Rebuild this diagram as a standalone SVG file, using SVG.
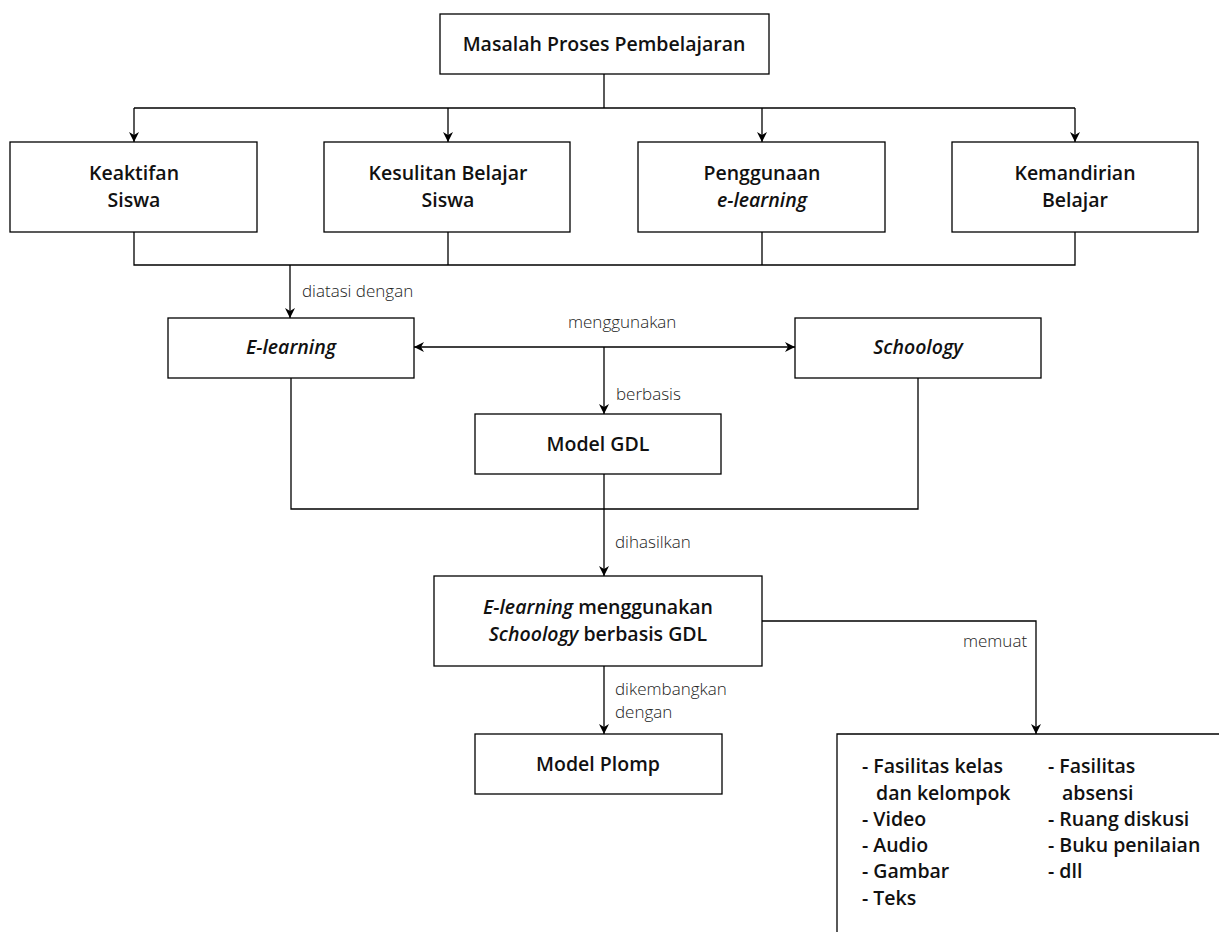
<svg xmlns="http://www.w3.org/2000/svg" width="1219" height="932" viewBox="0 0 1219 932">
<defs>
<marker id="arr" viewBox="0 0 10 10" refX="10" refY="5" markerWidth="10" markerHeight="10" markerUnits="userSpaceOnUse" orient="auto-start-reverse">
<path d="M0,0 L10,5 L0,10 L3,5 Z" fill="#000"/>
</marker>
<style>
rect.box{fill:#fff;stroke:#000;stroke-width:1.3}
.t{font-family:"Open Sans",Lato,sans-serif;font-size:19.5px;font-weight:600;fill:#111;text-anchor:middle}
.i{font-style:italic}
.lb{font-family:"Open Sans",Lato,sans-serif;font-size:17px;font-weight:300;fill:#222}
.ls{font-family:"Open Sans",Lato,sans-serif;font-size:19.5px;font-weight:600;fill:#111}
.c{fill:none;stroke:#000;stroke-width:1.3}
</style>
</defs>
<rect width="1219" height="932" fill="#fff"/>
<g id="connectors">
<path class="c" d="M604,74 V108"/>
<path class="c" d="M134,108 H1075"/>
<path class="c" d="M134,108 V142" marker-end="url(#arr)"/>
<path class="c" d="M448,108 V142" marker-end="url(#arr)"/>
<path class="c" d="M762,108 V142" marker-end="url(#arr)"/>
<path class="c" d="M1075,108 V142" marker-end="url(#arr)"/>
<path class="c" d="M134,232 V265 H1075 V232 M448,232 V265 M762,232 V265"/>
<path class="c" d="M290,265 V318" marker-end="url(#arr)"/>
<path class="c" d="M414,347 H795" marker-start="url(#arr)" marker-end="url(#arr)"/>
<path class="c" d="M604,347 V414" marker-end="url(#arr)"/>
<path class="c" d="M291,378 V509 H918 V378"/>
<path class="c" d="M604,474 V576" marker-end="url(#arr)"/>
<path class="c" d="M604,666 V734" marker-end="url(#arr)"/>
<path class="c" d="M762,621 H1036 V734" marker-end="url(#arr)"/>
<text class="lb" x="302" y="297">diatasi dengan</text>
<text class="lb" x="568" y="328">menggunakan</text>
<text class="lb" x="616" y="400">berbasis</text>
<text class="lb" x="615" y="548">dihasilkan</text>
<text class="lb" x="615" y="695">dikembangkan</text>
<text class="lb" x="615" y="718">dengan</text>
<text class="lb" x="963" y="647">memuat</text>
</g>
<g id="n-masalah">
<rect class="box" x="440" y="14" width="329" height="60"/>
<text class="t" x="604" y="51">Masalah Proses Pembelajaran</text>
</g>
<g id="n-keaktifan">
<rect class="box" x="10" y="142" width="247" height="90"/>
<text class="t" x="134" y="180">Keaktifan</text>
<text class="t" x="134" y="207">Siswa</text>
</g>
<g id="n-kesulitan">
<rect class="box" x="324" y="142" width="246" height="90"/>
<text class="t" x="448" y="180">Kesulitan Belajar</text>
<text class="t" x="448" y="207">Siswa</text>
</g>
<g id="n-penggunaan">
<rect class="box" x="638" y="142" width="247" height="90"/>
<text class="t" x="762" y="180">Penggunaan</text>
<text class="t i" x="762" y="207">e-learning</text>
</g>
<g id="n-kemandirian">
<rect class="box" x="952" y="142" width="246" height="90"/>
<text class="t" x="1075" y="180">Kemandirian</text>
<text class="t" x="1075" y="207">Belajar</text>
</g>
<g id="n-elearning">
<rect class="box" x="168" y="318" width="246" height="60"/>
<text class="t i" x="291" y="354">E-learning</text>
</g>
<g id="n-schoology">
<rect class="box" x="795" y="318" width="246" height="60"/>
<text class="t i" x="918" y="354">Schoology</text>
</g>
<g id="n-gdl">
<rect class="box" x="475" y="414" width="246" height="60"/>
<text class="t" x="598" y="451">Model GDL</text>
</g>
<g id="n-hasil">
<rect class="box" x="434" y="576" width="328" height="90"/>
<text class="t" x="598" y="614"><tspan class="i">E-learning</tspan> menggunakan</text>
<text class="t" x="598" y="641"><tspan class="i">Schoology</tspan> berbasis GDL</text>
</g>
<g id="n-plomp">
<rect class="box" x="475" y="734" width="247" height="60"/>
<text class="t" x="598" y="771">Model Plomp</text>
</g>
<g id="n-memuat">
<path class="c" d="M837,940 V734 H1225"/>
<text class="ls" x="862" y="773">- Fasilitas kelas</text>
<text class="ls" x="876" y="800">dan kelompok</text>
<text class="ls" x="862" y="826">- Video</text>
<text class="ls" x="862" y="852">- Audio</text>
<text class="ls" x="862" y="878">- Gambar</text>
<text class="ls" x="862" y="905">- Teks</text>
<text class="ls" x="1048" y="773">- Fasilitas</text>
<text class="ls" x="1062" y="800">absensi</text>
<text class="ls" x="1048" y="826">- Ruang diskusi</text>
<text class="ls" x="1048" y="852">- Buku penilaian</text>
<text class="ls" x="1048" y="878">- dll</text>
</g>
</svg>
